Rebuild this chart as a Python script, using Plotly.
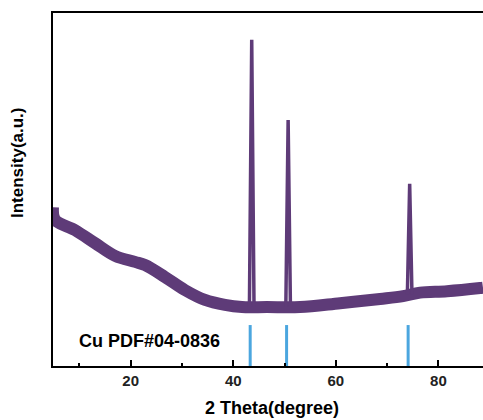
import plotly.graph_objects as go

# baseline of the XRD pattern (2theta in degree, intensity in a.u.)
base_x = [4.85, 5.24, 9.14, 13.04, 16.94, 20.84, 22.79, 26.69, 30.59, 34.49, 38.39,
          41.71, 46.58, 53.02, 60.82, 68.62, 73.11, 76.43, 81.69, 88.13, 88.7]
base_y = [45.0, 41.4, 38.5, 34.8, 31.2, 29.5, 28.6, 25.2, 21.5, 18.7, 17.3,
          16.7, 16.7, 16.7, 17.8, 19.0, 19.8, 20.8, 21.2, 22.1, 22.2]

# diffraction peaks
peak_x = [43.6, 50.7, 74.4]
peak_top = [92.4, 69.7, 51.6]
peak_foot = [16.7, 16.7, 20.2]

# Cu PDF#04-0836 reference lines
ref_x = [43.3, 50.4, 74.1]
ref_h = 11.6

purple = "#5e3b78"
blue = "#4ba6df"
font_fam = "Liberation Sans, Arial, sans-serif"

fig = go.Figure()

# noisy band of the baseline
fig.add_trace(go.Scatter(x=base_x, y=base_y, mode="lines",
                         line=dict(color=purple, width=12, shape="spline"),
                         hoverinfo="skip", showlegend=False))

px_, py_ = [], []
for p, t, f in zip(peak_x, peak_top, peak_foot):
    px_ += [p - 0.45, p, p + 0.45, None]
    py_ += [f, t, f, None]
fig.add_trace(go.Scatter(x=px_, y=py_, mode="lines",
                         line=dict(color=purple, width=3.5),
                         showlegend=False))

rx, ry = [], []
for r in ref_x:
    rx += [r, r, None]
    ry += [0, ref_h, None]
fig.add_trace(go.Scatter(x=rx, y=ry, mode="lines",
                         line=dict(color=blue, width=3),
                         showlegend=False))

fig.add_annotation(x=9.5, y=7.1, xref="x", yref="y", text="<b>Cu PDF#04-0836</b>",
                   showarrow=False, xanchor="left", yanchor="middle",
                   font=dict(family=font_fam, size=18, color="black"))

fig.add_annotation(x=-35 / 430, y=(366 - 163) / 353, xref="paper", yref="paper",
                   text="<b>Intensity(a.u.)</b>", textangle=-90, showarrow=False,
                   xanchor="center", yanchor="middle",
                   font=dict(family=font_fam, size=17, color="black"))

fig.add_annotation(x=(272 - 53) / 430, y=(366 - 408) / 353, xref="paper", yref="paper",
                   text="<b>2 Theta(degree)</b>", showarrow=False,
                   xanchor="center", yanchor="middle",
                   font=dict(family=font_fam, size=18, color="black"))

fig.update_layout(
    width=483, height=420,
    margin=dict(l=53, r=0, t=13, b=54),
    paper_bgcolor="white", plot_bgcolor="white",
    font=dict(family=font_fam, color="black"),
)
fig.update_xaxes(
    range=[4.85, 88.7], showgrid=False, zeroline=False, automargin=False,
    showline=True, linewidth=2, linecolor="black", mirror=True,
    ticks="inside", ticklen=6, tickwidth=2, tickcolor="black",
    tickvals=[20, 40, 60, 80],
    tickfont=dict(family=font_fam, size=15, color="#222", weight="bold"),
    minor=dict(tickvals=[10, 30, 50, 70], ticks="inside", ticklen=3,
               tickwidth=2, tickcolor="black"),
)
fig.update_yaxes(
    range=[0, 100], showgrid=False, zeroline=False, automargin=False,
    showline=True, linewidth=2, linecolor="black",
    showticklabels=False, ticks="",
)

fig.write_html("out.html", config={"displayModeBar": False},
               post_script="document.body.style.margin='0';"
                           "document.body.style.overflow='hidden';")
